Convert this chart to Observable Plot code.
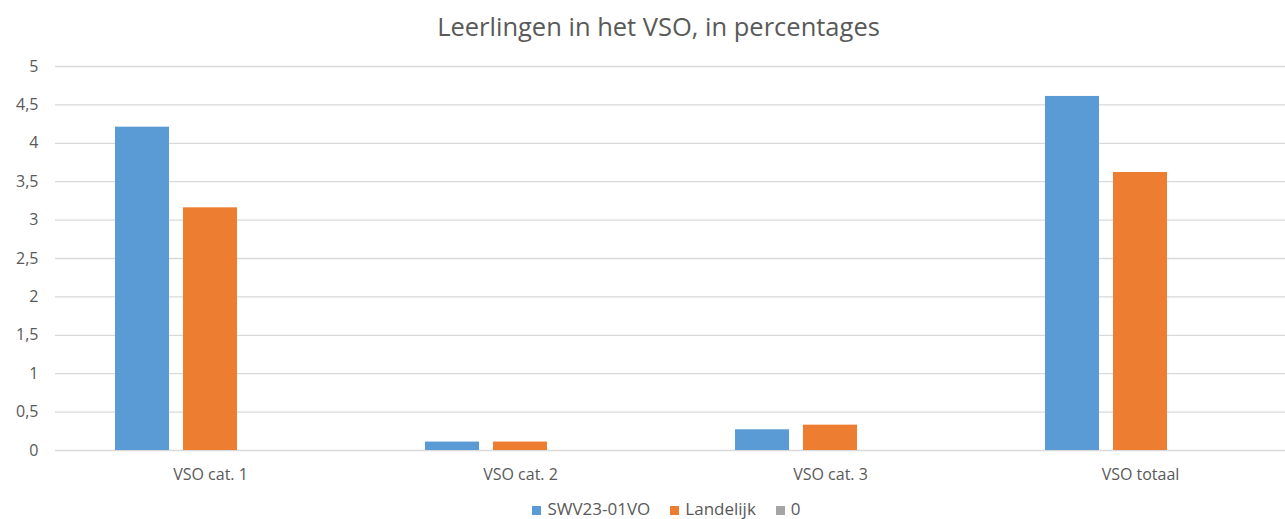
<!DOCTYPE html>
<html>
<head>
<meta charset="utf-8">
<script src="https://cdn.jsdelivr.net/npm/d3@7"></script>
<script src="https://cdn.jsdelivr.net/npm/@observablehq/plot@0.6"></script>
<style>
  body { margin: 0; background: #fff; font-family: "Open Sans", sans-serif; }
  #wrap { width: 1285px; height: 519px; position: relative; overflow: hidden; }
  #title { position: absolute; top: 8px; left: 16px; width: 1285px; text-align: center; font-size: 25.5px; color: #595959; line-height: 36px; }
  #chart { position: absolute; top: 50px; left: 0; }
  #legend { position: absolute; top: 499px; left: 24px; width: 1285px; text-align: center; font-size: 17px; color: #595959; line-height: 20px; white-space: nowrap; }
  #legend span.item { margin: 0 10px; }
  #legend span.sw { display: inline-block; width: 9px; height: 9px; margin-right: 6px; }
</style>
</head>
<body>
<div id="wrap">
  <div id="title">Leerlingen in het VSO, in percentages</div>
  <div id="chart"></div>
  <div id="legend"></div>
</div>
<script>
const categories = ["VSO cat. 1", "VSO cat. 2", "VSO cat. 3", "VSO totaal"];
const series = ["SWV23-01VO", "Landelijk", "0"];
const swvValues = [4.21, 0.11, 0.27, 4.61];
const landelijkValues = [3.16, 0.11, 0.33, 3.62];
const zeroValues = [0, 0, 0, 0];
const colors = ["#5B9BD5", "#ED7D31", "#A5A5A5"];
const yTicks = [0, 0.5, 1, 1.5, 2, 2.5, 3, 3.5, 4, 4.5, 5];

const allValues = [swvValues, landelijkValues, zeroValues];
const data = [];
categories.forEach((c, i) => {
  series.forEach((s, j) => {
    data.push({category: c, series: s, value: allValues[j][i]});
  });
});

const chart = Plot.plot({
  width: 1285,
  height: 445,
  marginTop: 16,
  marginBottom: 45,
  marginLeft: 55,
  marginRight: 0,
  style: {fontFamily: "Open Sans, sans-serif", fontSize: "16px", color: "#595959", overflow: "hidden"},
  fx: {domain: categories, paddingInner: 0, paddingOuter: -0.01613, align: 0, label: null, axis: "bottom", tickSize: 0, tickPadding: 18},
  x: {domain: series, axis: null, paddingInner: 0.206, paddingOuter: 0.882},
  y: {domain: [0, 5], ticks: yTicks, tickFormat: d => String(d).replace(".", ","), tickSize: 0, tickPadding: 17, label: null},
  color: {domain: series, range: colors},
  marks: [
    Plot.ruleY(yTicks, {stroke: "#D9D9D9", strokeWidth: 1.3}),
    Plot.barY(data, {fx: "category", x: "series", y: "value", fill: "series"})
  ]
});
chart.querySelectorAll("text").forEach(t => t.setAttribute("fill", "#595959"));
document.getElementById("chart").appendChild(chart);

const legend = document.getElementById("legend");
series.forEach((s, j) => {
  const item = document.createElement("span");
  item.className = "item";
  const sw = document.createElement("span");
  sw.className = "sw";
  sw.style.background = colors[j];
  item.appendChild(sw);
  item.appendChild(document.createTextNode(s));
  legend.appendChild(item);
});
</script>
</body>
</html>
